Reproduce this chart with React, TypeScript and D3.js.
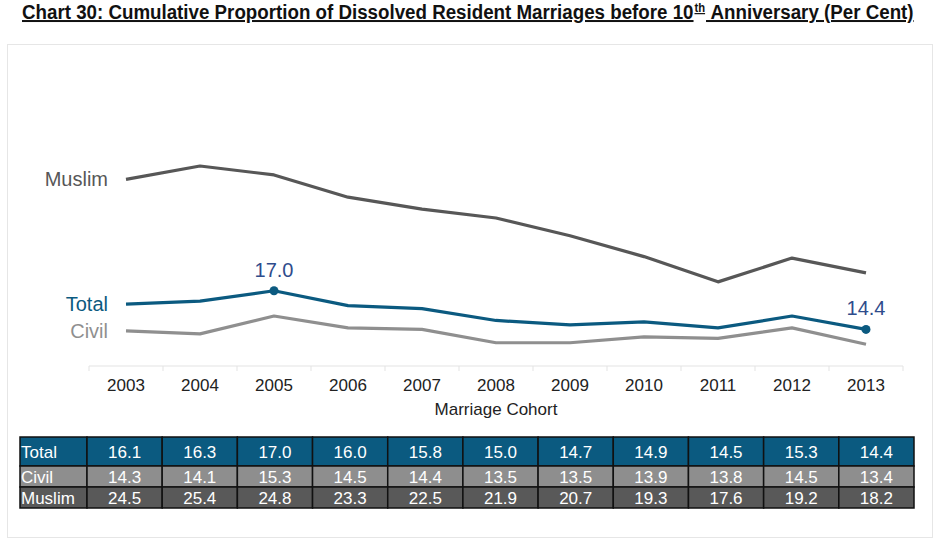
import { useEffect, useRef } from "react";
import * as d3 from "d3";

const years = ["2003", "2004", "2005", "2006", "2007", "2008", "2009", "2010", "2011", "2012", "2013"];
const total = [16.1, 16.3, 17.0, 16.0, 15.8, 15.0, 14.7, 14.9, 14.5, 15.3, 14.4];
const civil = [14.3, 14.1, 15.3, 14.5, 14.4, 13.5, 13.5, 13.9, 13.8, 14.5, 13.4];
const muslim = [24.5, 25.4, 24.8, 23.3, 22.5, 21.9, 20.7, 19.3, 17.6, 19.2, 18.2];
const labelledTotal = ["2005", "2013"];

export default function App() {
  const ref = useRef<SVGSVGElement | null>(null);

  useEffect(() => {
    if (!ref.current) return;
    const svg = d3.select(ref.current);
    svg.selectAll("*").remove();

    const font = "Liberation Sans, Arial, sans-serif";

    // title: Arial bold squeezed horizontally, like Arial Narrow
    const titleG = svg.append("g");
    const title = titleG
      .append("text")
      .attr("font-family", font)
      .attr("font-weight", "bold")
      .attr("font-size", 20)
      .attr("fill", "#111")
      .attr("text-decoration", "underline");
    title.append("tspan").text("Chart 30: Cumulative Proportion of Dissolved Resident Marriages before 10");
    title.append("tspan").attr("font-size", 12).attr("dy", -7).attr("dx", 1).text("th");
    title.append("tspan").attr("dy", 7).attr("dx", 1).text(" Anniversary (Per Cent)");
    const tw = (title.node() as SVGTextElement).getComputedTextLength() || 890;
    titleG.attr("transform", `translate(22,19) scale(${890 / tw},1)`);

    // frame
    svg
      .append("rect")
      .attr("x", 7.5)
      .attr("y", 44.5)
      .attr("width", 925)
      .attr("height", 493)
      .attr("fill", "none")
      .attr("stroke", "#e6e6e6");

    const x = d3.scaleBand().domain(years).range([89, 903]);
    const y = d3.scaleLinear().domain([11.8, 25.4]).range([368, 166]);
    const cx = (d: string) => (x(d) ?? 0) + x.bandwidth() / 2;

    // axis
    const ax = svg.append("g").attr("transform", "translate(0,366)");
    ax.append("line").attr("x1", 89).attr("x2", 903).attr("stroke", "#e3e3e3");
    ax.selectAll("line.tick")
      .data([...years.map((d) => x(d) ?? 0), 903])
      .join("line")
      .attr("class", "tick")
      .attr("x1", (d) => d)
      .attr("x2", (d) => d)
      .attr("y1", 0)
      .attr("y2", 5)
      .attr("stroke", "#e3e3e3");
    ax.selectAll("text")
      .data(years)
      .join("text")
      .attr("x", cx)
      .attr("y", 25)
      .attr("text-anchor", "middle")
      .attr("font-family", font)
      .attr("font-size", 17)
      .attr("fill", "#222")
      .text((d) => d);

    svg
      .append("text")
      .attr("x", 496)
      .attr("y", 415)
      .attr("text-anchor", "middle")
      .attr("font-family", font)
      .attr("font-size", 17)
      .attr("fill", "#222")
      .text("Marriage Cohort");

    const series = [
      { name: "Muslim", values: muslim, color: "#575757", row: "#595959" },
      { name: "Civil", values: civil, color: "#8f8f8f", row: "#8e8e8e" },
      { name: "Total", values: total, color: "#0b5a80", row: "#0b5a80" },
    ];

    const line = d3
      .line<number>()
      .x((_, i) => cx(years[i]))
      .y((d) => y(d));

    series.forEach((s) => {
      svg
        .append("path")
        .attr("d", line(s.values))
        .attr("fill", "none")
        .attr("stroke", s.color)
        .attr("stroke-width", 3.2)
        .attr("stroke-linejoin", "round");
      svg
        .append("text")
        .attr("x", 108)
        .attr("y", y(s.values[0]) + 7)
        .attr("text-anchor", "end")
        .attr("font-family", font)
        .attr("font-size", 20)
        .attr("fill", s.color)
        .text(s.name);
    });

    const pts = labelledTotal.map((yr) => ({ yr, v: total[years.indexOf(yr)] }));
    svg
      .selectAll("circle.pt")
      .data(pts)
      .join("circle")
      .attr("class", "pt")
      .attr("cx", (d) => cx(d.yr))
      .attr("cy", (d) => y(d.v))
      .attr("r", 4.5)
      .attr("fill", "#0b5a80");
    svg
      .selectAll("text.pt")
      .data(pts)
      .join("text")
      .attr("class", "pt")
      .attr("x", (d) => cx(d.yr))
      .attr("y", (d) => y(d.v) - 14)
      .attr("text-anchor", "middle")
      .attr("font-family", font)
      .attr("font-size", 20)
      .attr("fill", "#2f4c8c")
      .text((d) => d.v.toFixed(1));

    // table
    const tx0 = 20;
    const labelW = 67;
    const colW = (914 - tx0 - labelW) / years.length;
    const rows = [
      { s: series[2], y0: 437, h: 29 },
      { s: series[1], y0: 466, h: 21 },
      { s: series[0], y0: 487, h: 21 },
    ];
    const tg = svg.append("g");
    rows.forEach((r) => {
      tg.append("rect")
        .attr("x", tx0)
        .attr("y", r.y0)
        .attr("width", labelW)
        .attr("height", r.h)
        .attr("fill", r.s.row)
        .attr("stroke", "#111")
        .attr("stroke-width", 1.5);
      tg.append("text")
        .attr("x", tx0 + 1)
        .attr("y", r.y0 + r.h / 2 + 6)
        .attr("font-family", font)
        .attr("font-size", 17)
        .attr("fill", "#fff")
        .text(r.s.name);
      r.s.values.forEach((v, i) => {
        const x0 = tx0 + labelW + i * colW;
        tg.append("rect")
          .attr("x", x0)
          .attr("y", r.y0)
          .attr("width", colW)
          .attr("height", r.h)
          .attr("fill", r.s.row)
          .attr("stroke", "#111")
          .attr("stroke-width", 1.5);
        tg.append("text")
          .attr("x", x0 + colW / 2)
          .attr("y", r.y0 + r.h / 2 + 6)
          .attr("text-anchor", "middle")
          .attr("font-family", font)
          .attr("font-size", 17)
          .attr("fill", "#fff")
          .text(v.toFixed(1));
      });
    });
  }, []);

  return (
    <svg
      ref={ref}
      width={941}
      height={540}
      style={{ position: "absolute", left: 0, top: 0, background: "#fff" }}
    />
  );
}
